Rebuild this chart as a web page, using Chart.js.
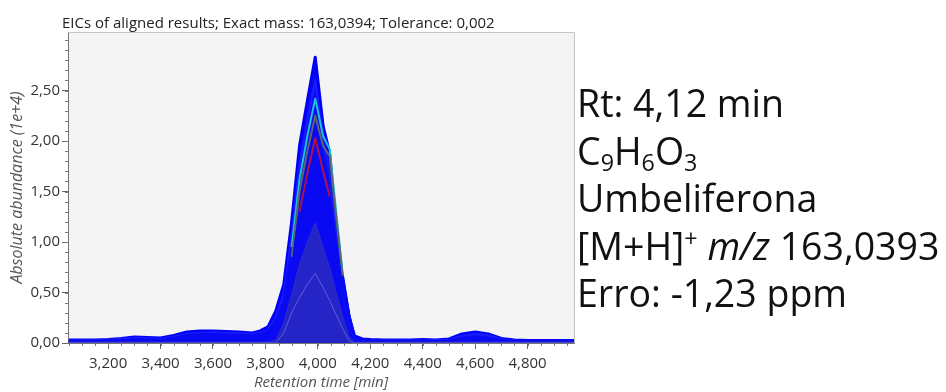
<!DOCTYPE html>
<html>
<head>
<meta charset="utf-8">
<script src="https://cdn.jsdelivr.net/npm/chart.js@4"></script>
<style>
  html, body { margin: 0; padding: 0; background: #fff; }
  #wrap { position: relative; width: 946px; height: 392px; }
  #chartBox { position: absolute; left: 0; top: 0; width: 946px; height: 392px; }
  #title {
    position: absolute; left: 62px; top: 12px;
    font-family: "Open Sans", sans-serif; font-size: 15px; line-height: 20px;
    color: #222; white-space: nowrap;
  }
  #info {
    position: absolute; left: 577px; top: 79px;
    font-family: "Open Sans", sans-serif; font-size: 37.5px; line-height: 47.5px;
    color: #111; white-space: nowrap;
  }
  #info .sb { font-size: 0.62em; position: relative; top: 0.3em; line-height: 0; }
  #info .sp { font-size: 0.62em; position: relative; top: -0.55em; line-height: 0; }
</style>
</head>
<body>
<div id="wrap">
  <div id="chartBox"><canvas id="eic" width="946" height="392"></canvas></div>
  <div id="title">EICs of aligned results; Exact mass: 163,0394; Tolerance: 0,002</div>
  <div id="info">
    Rt: 4,12 min<br>
    C<span class="sb">9</span>H<span class="sb">6</span>O<span class="sb">3</span><br>
    Umbeliferona<br>
    [M+H]<span class="sp">+</span> <i>m/z</i> 163,0393<br>
    Erro: -1,23 ppm
  </div>
</div>

<script>
// ---------- Data (retention time in min, abundance in 1e+4) ----------

const rtimes = [3.05,3.10,3.15,3.20,3.25,3.30,3.35,3.40,3.45,3.50,3.55,3.60,3.65,3.70,3.75,
  3.78,3.81,3.84,3.87,3.90,3.93,3.96,3.99,
  4.02,4.045,4.07,4.095,4.12,4.14,4.17,4.20,
  4.25,4.30,4.35,4.40,4.45,4.50,4.55,4.60,4.65,4.70,4.75,4.80,4.85,4.90,4.95,
  4.98];

const blueMax = [0.03,0.03,0.03,0.035,0.045,0.06,0.055,0.05,0.075,0.11,0.12,0.12,0.115,0.11,0.10,
  0.12,0.16,0.32,0.58,1.20,1.95,2.40,2.83,
  2.15,1.88,1.15,0.60,0.25,0.07,0.04,0.035,
  0.03,0.03,0.03,0.035,0.03,0.04,0.09,0.11,0.09,0.045,0.03,0.025,0.025,0.025,0.025,
  0.025];

const blueMid = [0.02,0.025,0.025,0.03,0.04,0.05,0.045,0.04,0.06,0.09,0.10,0.105,0.10,0.095,0.09,
  0.10,0.13,0.25,0.48,1.05,1.75,2.20,2.60,
  2.00,1.70,1.05,0.52,0.20,0.05,0.03,0.03,
  0.025,0.025,0.025,0.03,0.025,0.03,0.07,0.09,0.075,0.035,0.025,0.02,0.02,0.02,0.02,
  0.02];

const cyanTrace = [0.015,0.02,0.02,0.025,0.03,0.04,0.035,0.03,0.05,0.08,0.09,0.09,0.085,0.08,0.08,
  0.09,0.12,0.22,0.42,0.95,1.62,2.05,2.42,
  2.05,1.92,1.30,0.68,0.28,0.06,0.03,0.025,
  0.02,0.02,0.02,0.025,0.02,0.025,0.05,0.065,0.05,0.03,0.02,0.015,0.015,0.015,0.015,
  0.015];

const grayTrace = [0.015,0.015,0.02,0.02,0.025,0.035,0.03,0.03,0.045,0.07,0.08,0.08,0.075,0.07,0.07,
  0.08,0.11,0.20,0.38,0.85,1.50,1.90,2.25,
  1.95,1.85,1.25,0.66,0.27,0.06,0.03,0.025,
  0.02,0.02,0.02,0.02,0.02,0.02,0.04,0.05,0.04,0.025,0.02,0.015,0.015,0.015,0.015,
  0.015];

const redTrace = [0.01,0.015,0.015,0.02,0.02,0.03,0.025,0.025,0.04,0.06,0.07,0.07,0.065,0.06,0.06,
  0.07,0.09,0.17,0.32,0.72,1.30,1.68,2.03,
  1.70,1.45,0.98,0.52,0.22,0.05,0.03,0.02,
  0.02,0.02,0.02,0.02,0.02,0.02,0.03,0.04,0.03,0.02,0.015,0.01,0.01,0.01,0.01,
  0.01];

const navyTrace = [0.01,0.01,0.01,0.01,0.01,0.01,0.01,0.01,0.01,0.01,0.01,0.01,0.01,0.01,0.01,
  0.01,0.01,0.03,0.20,0.48,0.78,1.00,1.19,
  0.95,0.75,0.50,0.26,0.06,0.01,0.01,0.01,
  0.01,0.01,0.01,0.01,0.01,0.01,0.01,0.01,0.01,0.01,0.01,0.01,0.01,0.01,0.01,
  0.01];

const innerTrace = [0,0,0,0,0,0,0,0,0,0,0,0,0,0,0,
  0,0,0,0.10,0.30,0.45,0.58,0.69,
  0.55,0.42,0.28,0.14,0.02,0,0,0,
  0,0,0,0,0,0,0,0,0,0,0,0,0,0,0,
  0];

const xTicks = [3.2,3.4,3.6,3.8,4.0,4.2,4.4,4.6,4.8];
const yTicks = [0,0.5,1.0,1.5,2.0,2.5];

// ---------- Helpers ----------

const BLUE = '#0a0af2';

function pts(vals){
  return vals.map((v,i)=>({x:rtimes[i],y:v}));
}

// hideBelow: parts of a coloured trace under this level are painted blue (buried in the other traces)
function trace(label, vals, color, width, fillColor, hideBelow){
  const ds = {
    label: label,
    data: pts(vals),
    borderColor: color,
    borderWidth: width,
    borderJoinStyle: 'round',
    backgroundColor: fillColor || color,
    fill: fillColor ? 'origin' : false,
    pointRadius: 0,
    tension: 0
  };
  if(hideBelow){
    ds.segment = {
      borderColor: c => Math.max(c.p0.parsed.y, c.p1.parsed.y) < hideBelow ? BLUE : undefined
    };
  }
  return ds;
}

// plot background, frame and minor ticks
const framePlugin = {
  id: 'frame',
  beforeDraw(chart){
    const a = chart.chartArea, c = chart.ctx;
    c.save();
    c.fillStyle = '#f4f4f4';
    c.fillRect(a.left, a.top, a.right-a.left, a.bottom-a.top);
    c.restore();
  },
  afterDraw(chart){
    const a = chart.chartArea, c = chart.ctx;
    const xs = chart.scales.x, ys = chart.scales.y;
    c.save();
    c.strokeStyle = '#c4c4c4';
    c.lineWidth = 1;
    c.beginPath();
    c.moveTo(a.left, a.top+0.5); c.lineTo(a.right+0.5, a.top+0.5); c.lineTo(a.right+0.5, a.bottom);
    c.stroke();
    c.strokeStyle = '#777';
    c.beginPath();
    for(let v=3.05; v<=4.97; v+=0.05){
      const px = Math.round(xs.getPixelForValue(v))+0.5;
      c.moveTo(px, a.bottom); c.lineTo(px, a.bottom+3);
    }
    for(let v=0.1; v<=3.05; v+=0.1){
      const py = Math.round(ys.getPixelForValue(v))+0.5;
      c.moveTo(a.left-3, py); c.lineTo(a.left, py);
    }
    c.stroke();
    c.restore();
  }
};

// ---------- Chart ----------

const ctx = document.getElementById('eic');

new Chart(ctx, {
  type: 'line',
  data: {
    datasets: [
      trace('inner', innerTrace, 'rgba(130,130,235,0.6)', 1),
      trace('navy', navyTrace, 'rgba(45,45,200,0.9)', 1, 'rgba(40,40,195,0.92)'),
      trace('red', redTrace, '#a8144a', 2, null, 1.6),
      trace('gray', grayTrace, '#5c6470', 2, null, 0.9),
      trace('cyan', cyanTrace, '#1cc4d6', 2, null, 1.2),
      trace('blue 2', blueMid, '#1a1aff', 2.5),
      trace('blue 1', blueMax, '#0000fa', 3, BLUE)
    ]
  },
  options: {
    responsive: false,
    animation: false,
    maintainAspectRatio: false,
    layout: { padding: { left: 0, right: 372, top: 32, bottom: 0 } },
    plugins: {
      legend: { display: false },
      tooltip: { enabled: false },
      title: { display: false }
    },
    scales: {
      x: {
        type: 'linear',
        min: 3.047,
        max: 4.977,
        afterBuildTicks: s => { s.ticks = xTicks.map(v=>({value:v})); },
        afterFit: s => { s.height = 49; },
        grid: { drawOnChartArea: false, tickLength: 6, tickColor: '#666' },
        border: { color: '#777' },
        ticks: {
          color: '#333',
          font: { family: 'Open Sans', size: 15 },
          padding: 6,
          maxRotation: 0,
          callback: v => v.toFixed(3).replace('.', ',')
        },
        title: {
          display: true,
          text: 'Retention time [min]',
          color: '#555',
          font: { family: 'Open Sans', size: 15, style: 'italic' },
          padding: { top: 0, bottom: 0 }
        }
      },
      y: {
        min: 0,
        max: 3.08,
        afterBuildTicks: s => { s.ticks = yTicks.map(v=>({value:v})); },
        afterFit: s => { s.width = 68; },
        grid: { drawOnChartArea: false, tickLength: 6, tickColor: '#666' },
        border: { color: '#777' },
        ticks: {
          color: '#333',
          font: { family: 'Open Sans', size: 15 },
          padding: 2,
          callback: v => v.toFixed(2).replace('.', ',')
        },
        title: {
          display: true,
          text: 'Absolute abundance (1e+4)',
          color: '#555',
          font: { family: 'Open Sans', size: 16, style: 'italic' },
          padding: { top: 8, bottom: 0 }
        }
      }
    }
  },
  plugins: [framePlugin]
});
</script>
</body>
</html>
